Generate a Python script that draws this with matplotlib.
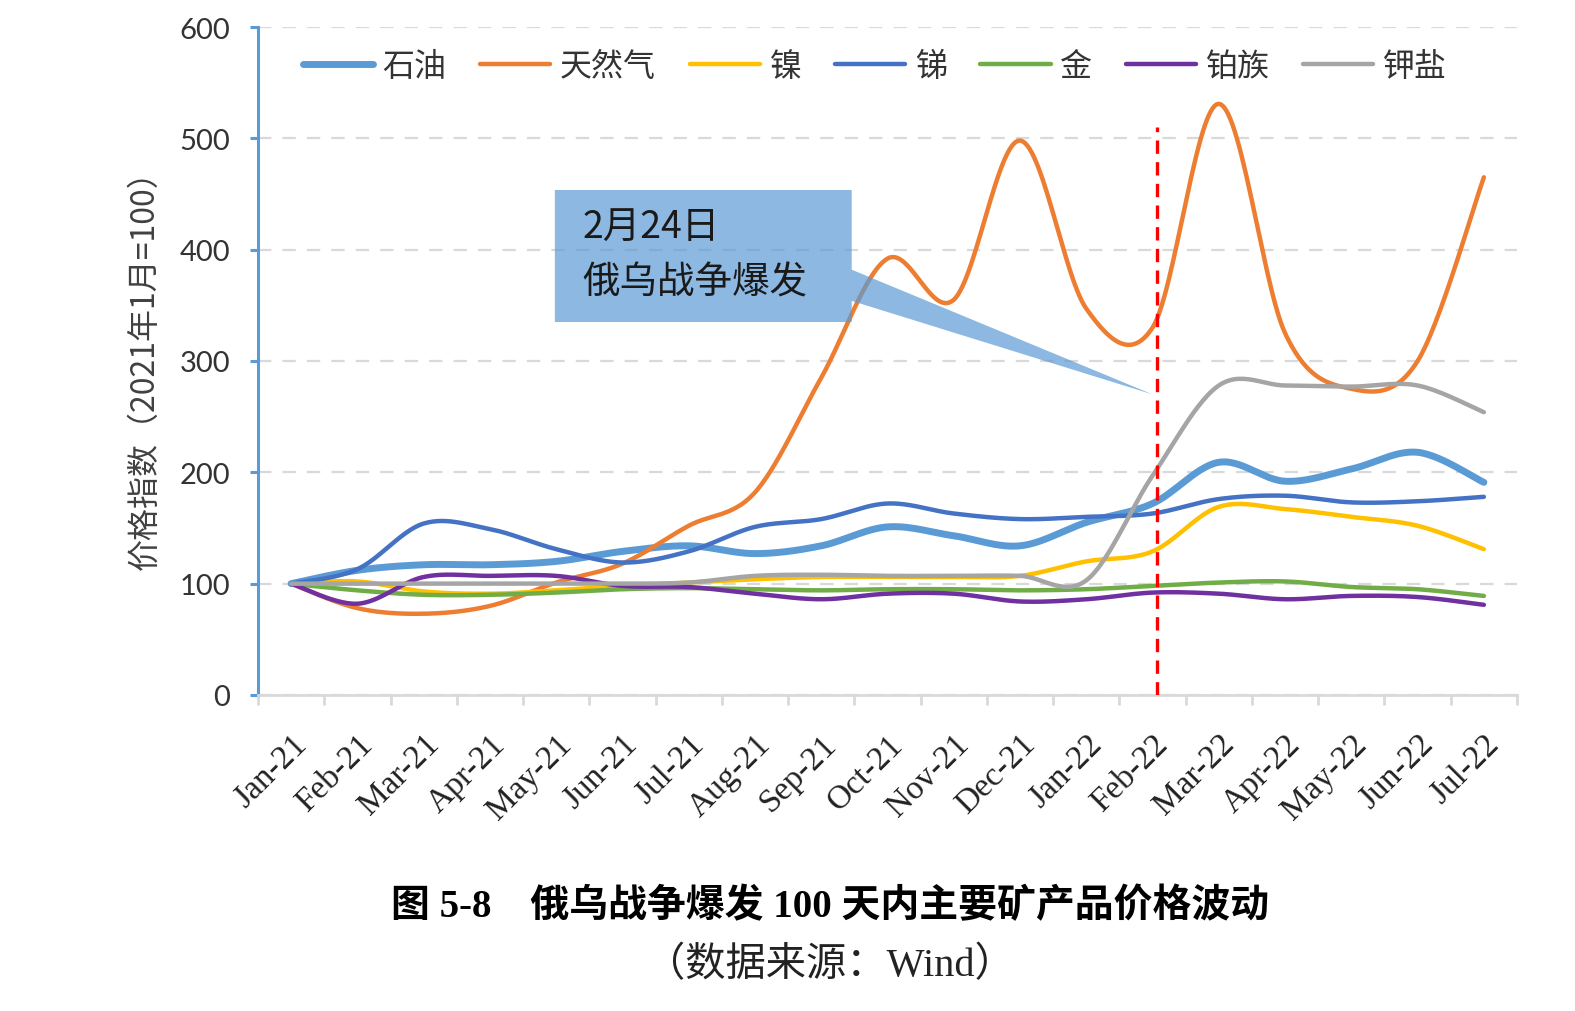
import numpy as np
import matplotlib
matplotlib.use("Agg")
import matplotlib.pyplot as plt
from matplotlib.patches import Polygon

# month labels and index values (2021-01 = 100)
months = ["Jan-21", "Feb-21", "Mar-21", "Apr-21", "May-21", "Jun-21", "Jul-21",
          "Aug-21", "Sep-21", "Oct-21", "Nov-21", "Dec-21", "Jan-22", "Feb-22",
          "Mar-22", "Apr-22", "May-22", "Jun-22", "Jul-22"]

oil = [100, 112, 117, 117, 120, 129, 134, 127, 134, 151, 143, 134, 155, 172, 209, 192, 203, 218, 191]
natgas = [100, 78, 73, 80, 101, 118, 152, 182, 285, 392, 355, 498, 347, 330, 531, 325, 275, 300, 465]
nickel = [100, 102, 93, 91, 94, 98, 101, 104, 106, 106, 106, 107, 120, 129, 169, 167, 160, 152, 131]
antimony = [100, 113, 154, 149, 131, 119, 129, 151, 158, 172, 163, 158, 160, 163, 176, 179, 173, 174, 178]
gold = [100, 94, 90, 90, 92, 95, 96, 95, 94, 95, 95, 94, 95, 98, 101, 102, 97, 95, 89]
platinum = [100, 82, 106, 107, 107, 98, 97, 91, 86, 91, 91, 84, 86, 92, 91, 86, 89, 88, 81]
potash = [100, 100, 100, 100, 100, 100, 101, 107, 108, 107, 107, 107, 103, 197, 278, 278, 277, 278, 254]

series_names = ["石油", "天然气", "镍", "锑", "金", "铂族", "钾盐"]
series_vals = [oil, natgas, nickel, antimony, gold, platinum, potash]
colors = ["#5B9BD5", "#ED7D31", "#FFC000", "#4472C4", "#70AD47", "#7030A0", "#A5A5A5"]
widths = [5.0, 3.2, 3.2, 3.2, 3.2, 3.2, 3.2]

war_x = 13.06  # 2月24日
cjk = ["Noto Sans CJK SC", "DejaVu Sans"]


def smooth(y, n=30):
    # excel-like smoothed line: cubic bezier with catmull-rom control points
    y = np.asarray(y, float)
    x = np.arange(len(y), dtype=float)
    pts = np.column_stack([x, y])
    out = []
    t = np.linspace(0, 1, n)[:, None]
    for i in range(len(pts) - 1):
        p0 = pts[max(i - 1, 0)]
        p1 = pts[i]
        p2 = pts[i + 1]
        p3 = pts[min(i + 2, len(pts) - 1)]
        b1 = p1 + (p2 - p0) / 6
        b2 = p2 - (p3 - p1) / 6
        seg = ((1 - t) ** 3) * p1 + 3 * ((1 - t) ** 2) * t * b1 + 3 * (1 - t) * t ** 2 * b2 + t ** 3 * p2
        out.append(seg if i == 0 else seg[1:])
    out = np.vstack(out)
    return out[:, 0], out[:, 1]


fig = plt.figure(figsize=(15.75, 10.12), dpi=100)
ax = fig.add_axes([258 / 1575, 1 - 696 / 1012, 1259 / 1575, 668 / 1012])

for name, vals, c, lw in zip(series_names, series_vals, colors, widths):
    sx, sy = smooth(vals)
    ax.plot(sx, sy, color=c, lw=lw, label=name, solid_capstyle="round", zorder=3)

ax.set_xlim(-0.5, len(months) - 0.5)
ax.set_ylim(0, 600)

# grid
ax.set_yticks(range(0, 601, 100))
ax.yaxis.grid(True, color="#D9D9D9", lw=1.6, ls=(0, (6, 5)))
ax.set_axisbelow(True)

# spines
for s in ["top", "right"]:
    ax.spines[s].set_visible(False)
ax.spines["left"].set_color("#5B9BD5")
ax.spines["left"].set_linewidth(2.2)
ax.spines["bottom"].set_color("#D9D9D9")
ax.spines["bottom"].set_linewidth(2)

ax.tick_params(axis="y", direction="out", length=6, width=2.2, color="#5B9BD5",
               labelsize=21, labelcolor="#333333", pad=14)
for lab in ax.get_yticklabels():
    lab.set_fontfamily("Lato")

# x ticks: labels at category centres, marks at boundaries
ax.set_xticks(range(len(months)))
ax.set_xticklabels(months, rotation=45, ha="right", va="top", rotation_mode="anchor",
                   fontsize=24, fontfamily="Liberation Serif", color="#222222")
ax.tick_params(axis="x", which="major", length=0, pad=24)
ax.set_xticks(np.arange(-0.5, len(months), 1), minor=True)
ax.tick_params(axis="x", which="minor", length=7, width=2, color="#D9D9D9")

ax.set_ylabel("价格指数（2021年1月=100）", fontsize=23, family=cjk, color="#404040", labelpad=14)

# 2月24日 marker line
ax.plot([war_x, war_x], [0, 510], color="#FF0000", lw=2.4, ls=(0, (4, 2.5)), zorder=4)

# callout box with pointer
callout = Polygon([(3.98, 453.6), (8.46, 453.6), (8.46, 382.0), (13.0, 270.0),
                   (8.46, 354.0), (8.46, 335.0), (3.98, 335.0)],
                  closed=True, facecolor="#5B9BD5", alpha=0.7, edgecolor="none", zorder=5)
ax.add_patch(callout)
ax.text(4.4, 420, "2月24日", fontsize=27, family=cjk, color="#1a1a1a", va="center", zorder=6)
ax.text(4.4, 371, "俄乌战争爆发", fontsize=27, family=cjk, color="#1a1a1a", va="center", zorder=6)

leg = ax.legend(loc="center", bbox_to_anchor=(0.49, 0.942), ncol=7, frameon=False,
                prop={"family": cjk, "size": 23}, handlelength=2.2, handletextpad=0.3,
                columnspacing=1.05)
for t in leg.get_texts():
    t.set_color("#333333")

fig.text(830 / 1575, 1 - 907 / 1012, "图 5-8　俄乌战争爆发 100 天内主要矿产品价格波动",
         ha="center", va="center", fontsize=28, fontweight="bold",
         family=["Liberation Serif", "Noto Sans CJK SC"])
fig.text(830 / 1575, 1 - 966 / 1012, "（数据来源：Wind）", ha="center", va="center",
         fontsize=29, family=["Liberation Serif", "Noto Sans CJK SC"], color="#222222")

fig.savefig("out.png", dpi=100)
